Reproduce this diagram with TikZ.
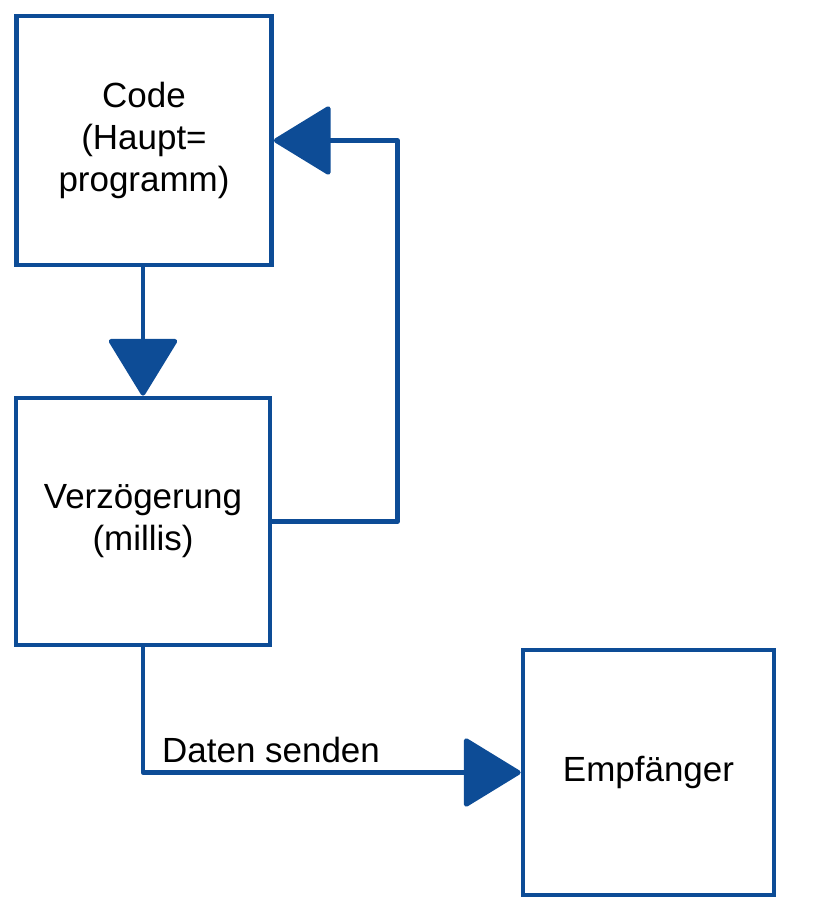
\documentclass[tikz,border=0pt]{standalone}
\usepackage{fontspec}
\setmainfont{Liberation Sans}
\usetikzlibrary{arrows.meta,positioning}
\definecolor{flowblue}{HTML}{0D4C96}

\begin{document}
\begin{tikzpicture}[x=0.02cm,y=-0.02cm,font=\fontsize{19.9}{24}\selectfont,
 blk/.style={rectangle,draw=flowblue,line width=2.7pt,align=center,inner sep=0pt},
 flow/.style={draw=flowblue,line width=2.7pt,line join=round,-{Triangle[length=1.18cm,width=1.42cm,round]}}]
\useasboundingbox (0,0) rectangle (821,919);
\node[blk,minimum width=5.1cm,minimum height=4.98cm] (code) at (144,140.5) {Code\\(Haupt=\\programm)};
\node[blk,minimum width=5.08cm,minimum height=4.94cm] (delay) at (143,521.5) {Verzögerung\\(millis)};
\node[blk,minimum width=5.02cm,minimum height=4.9cm] (recv) at (648.5,772.5) {Empfänger};
\draw[flow] (code.south -| delay.north) -- (delay.north);
\draw[flow] (delay.east) -- ++(125,0) |- (code.east);
\draw[flow] (delay.south) |- node[pos=0.513,above right,inner sep=4pt]{Daten senden} (recv.west);
\end{tikzpicture}
\end{document}
